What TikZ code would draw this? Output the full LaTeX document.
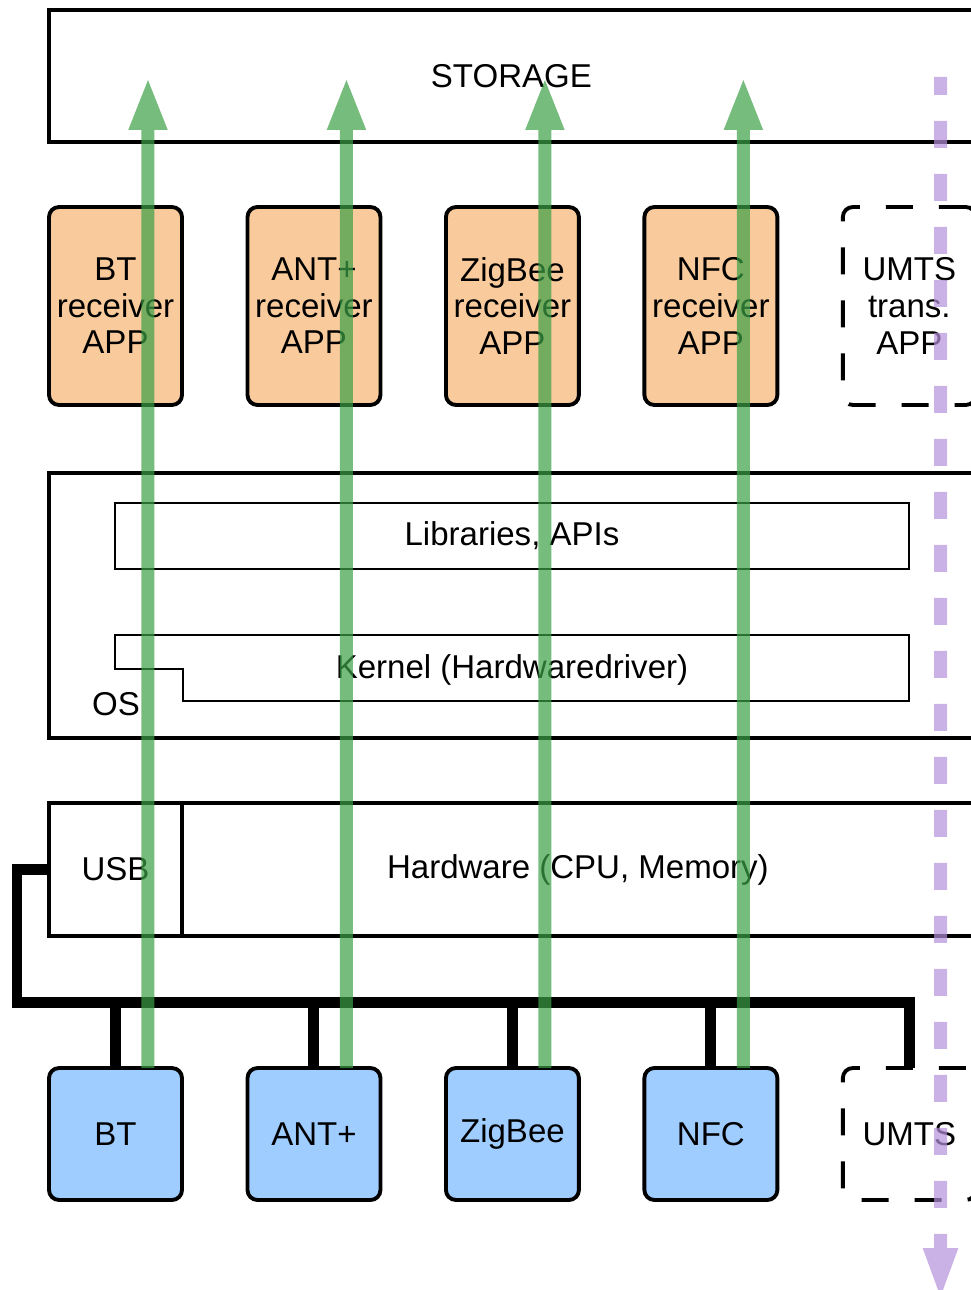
\documentclass[tikz,border=0pt]{standalone}
\usepackage{fontspec}
\setmainfont{Liberation Sans}
\usepackage{xcolor}
\usetikzlibrary{positioning,arrows.meta}

\definecolor{appfill}{RGB}{249,203,156}
\definecolor{devfill}{RGB}{159,205,255}
\definecolor{flowgreen}{RGB}{60,160,70}
\definecolor{flowpurple}{RGB}{181,145,219}

\begin{document}
\begin{tikzpicture}[
		x=0.02cm, y=-0.02cm,
		node distance=1.31cm,
		every node/.style={font=\fontsize{18.8}{20.8}\selectfont},
		layer/.style={
			draw=black,
			line width=2.4pt,
			rectangle,
			inner sep=0pt,
			outer sep=0pt,
			anchor=north west
		},
		part/.style={
			draw=black,
			line width=1.4pt,
			rectangle,
			inner sep=0pt,
			outer sep=0pt
		},
		app/.style={
			draw=black,
			line width=2.2pt,
			fill=appfill,
			rectangle,
			rounded corners=0.2cm,
			minimum width=2.66cm,
			minimum height=3.96cm,
			inner sep=0pt,
			outer sep=0pt,
			align=center
		},
		dev/.style={
			app,
			fill=devfill,
			minimum height=2.64cm
		},
		ghost/.style={
			fill=none,
			dash pattern=on 0.54cm off 0.52cm
		},
		bus/.style={line width=0.22cm},
		flow/.style={
			line width=0.26cm,
			draw=flowgreen,
			-{Triangle[width=0.7cm,length=1.06cm]}
		},
		uplink/.style={
			line width=0.26cm,
			draw=flowpurple,
			dash pattern=on 0.54cm off 0.52cm,
			dash phase=0.18cm,
			-{Triangle[width=0.62cm,length=1.06cm]}
		},
		seethrough/.style={transparency group, opacity=0.7}
		]
		\useasboundingbox (0,0) rectangle (970,1290);
		
		% Storage
		\node[layer, minimum width=18.5cm, minimum height=2.64cm] (storage) at (49,10) {STORAGE};
		
		% Receiver apps
		\node[app] (btapp) at (115.5,306) {BT\\receiver\\APP};
		\node[app, right=of btapp] (antapp) {ANT+\\receiver\\APP};
		\node[app, right=of antapp] (zigapp) {ZigBee\\receiver\\APP};
		\node[app, right=of zigapp] (nfcapp) {NFC\\receiver\\APP};
		\node[app, ghost, right=of nfcapp] (umtsapp) {UMTS\\trans.\\APP};
		
		% OS with libraries and kernel
		\node[layer, minimum width=18.5cm, minimum height=5.3cm] (os) at (49,473) {};
		\node[part, minimum width=15.88cm, minimum height=1.32cm] (libs) at (512,536) {Libraries, APIs};
		\draw[line width=1.4pt] (115,635) -- (909,635) -- (909,701) -- (183,701)
			-- (183,669) -- (115,669) -- cycle;
		\node (kernel) at (512,670) {Kernel (Hardwaredriver)};
		\node (oslabel) at (116,704) {OS};
		
		% Hardware
		\node[layer, minimum width=2.66cm, minimum height=2.66cm] (usb) at (49,803) {USB};
		\node[layer, minimum width=15.84cm, minimum height=2.66cm] (hw) at (182,803) {Hardware (CPU, Memory)};
		
		% Devices
		\node[dev] (bt) at (115.5,1134) {BT};
		\node[dev, right=of bt] (ant) {ANT+};
		\node[dev, right=of ant] (zig) {ZigBee};
		\node[dev, right=of zig] (nfc) {NFC};
		\node[dev, ghost, right=of nfc] (umts) {UMTS};
		
		% USB bus
		\coordinate (busl) at (17,1002);
		\draw[bus] (usb.west) -| (busl) -- (busl -| umts.north) -- (umts.north);
		\foreach \d in {bt,ant,zig,nfc}
			\draw[bus] (\d.north) -- (\d.north |- busl);
		
		% Received data goes up to storage
		\coordinate (top) at (0,77);
		\foreach \d in {bt,ant,zig,nfc}{
			\coordinate (src-\d) at ([xshift=-0.68cm]\d.north east);
			\begin{scope}[seethrough]
				\draw[flow] (src-\d) -- (src-\d |- top);
			\end{scope}
		}
		
		% Stored data goes out over UMTS
		\coordinate (umtsfrom) at (940.5,77);
		\coordinate (umtsto) at (940.5,1301);
		\begin{scope}[seethrough]
			\draw[uplink] (umtsfrom) -- (umtsto);
		\end{scope}
	\end{tikzpicture}
\end{document}
